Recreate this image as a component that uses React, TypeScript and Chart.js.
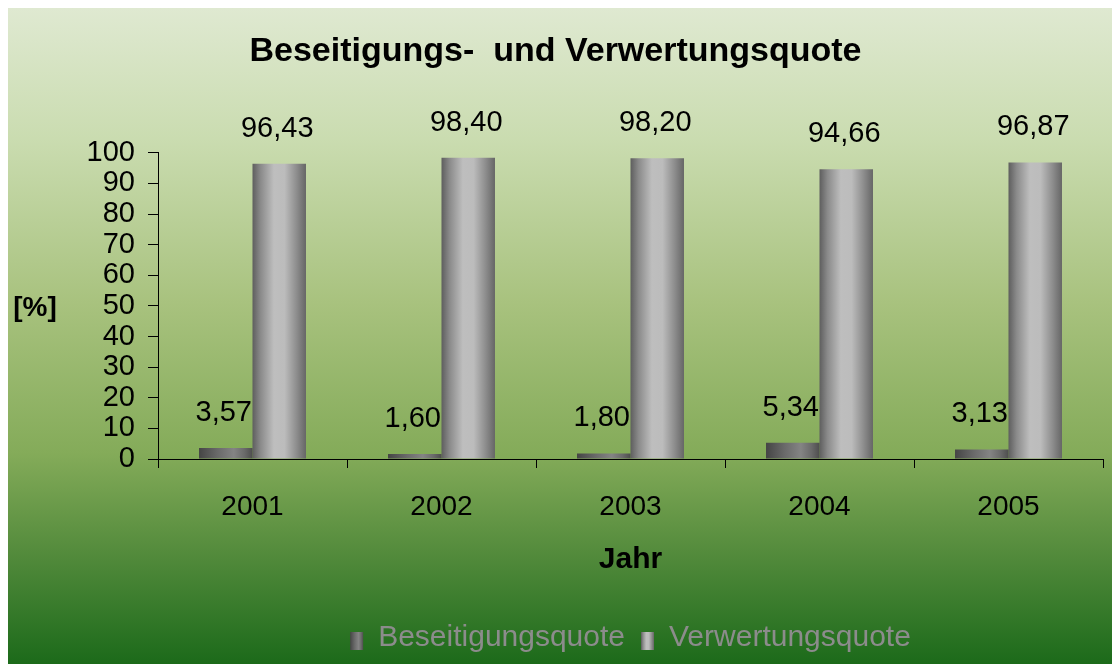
import React, { useEffect, useRef } from "react";
import { Chart, registerables } from "chart.js";

Chart.register(...registerables);

// ---- data ----
const years = ["2001", "2002", "2003", "2004", "2005"];
const beseitigungsquote = [3.57, 1.6, 1.8, 5.34, 3.13];
const verwertungsquote = [96.43, 98.4, 98.2, 94.66, 96.87];
const seriesNames = ["Beseitigungsquote", "Verwertungsquote"];
const titleText = "Beseitigungs-  und Verwertungsquote";
const xTitle = "Jahr";
const yTitle = "[%]";

// ---- styles ----
const FONT = "'Liberation Sans', Arial, Helvetica, sans-serif";
const CAT_PCT = 0.566;
const W = 1112;
const H = 656;

const stopsDark: [number, string][] = [
  [0, "#454545"],
  [0.35, "#6a6a6a"],
  [0.65, "#848484"],
  [0.85, "#6a6a6a"],
  [1, "#4e4e4e"],
];
const stopsLight: [number, string][] = [
  [0, "#5e5e5e"],
  [0.15, "#8a8a8a"],
  [0.4, "#bebebe"],
  [0.6, "#bcbcbc"],
  [0.82, "#8e8e8e"],
  [1, "#666666"],
];

function makeGrad(c: CanvasRenderingContext2D, left: number, width: number, stops: [number, string][]) {
  const g = c.createLinearGradient(left, 0, left + width, 0);
  stops.forEach(([o, col]) => g.addColorStop(o, col));
  return g;
}

function barBg(which: number) {
  return (ctx: any) => {
    const chart = ctx.chart;
    const xs = chart.scales && chart.scales.x;
    const stops = which === 0 ? stopsDark : stopsLight;
    if (!xs || ctx.type !== "data" || !xs.width) return stops[2][1];
    const center = xs.getPixelForValue(ctx.dataIndex);
    const catW = xs.width / years.length;
    const w = (catW * CAT_PCT) / 2;
    const left = which === 0 ? center - w : center;
    return makeGrad(chart.ctx, left, w, stops);
  };
}

const bgPlugin = {
  id: "bgGradient",
  beforeDraw(chart: any) {
    const c = chart.ctx;
    const g = c.createLinearGradient(0, 0, 0, chart.height);
    g.addColorStop(0, "#dfe9d1");
    g.addColorStop(0.2, "#cadcb0");
    g.addColorStop(0.45, "#a8c27e");
    g.addColorStop(0.68, "#84ab59");
    g.addColorStop(0.84, "#50893a");
    g.addColorStop(1, "#1c6a1a");
    c.save();
    c.fillStyle = g;
    c.fillRect(0, 0, chart.width, chart.height);
    c.restore();
  },
};

const labelPlugin = {
  id: "valueLabels",
  afterDatasetsDraw(chart: any) {
    const c = chart.ctx;
    c.save();
    c.font = `29px ${FONT}`;
    c.fillStyle = "#000";
    c.textAlign = "center";
    c.textBaseline = "middle";
    chart.data.datasets.forEach((ds: any, di: number) => {
      const meta = chart.getDatasetMeta(di);
      meta.data.forEach((el: any, i: number) => {
        const v = ds.data[i] as number;
        c.fillText(v.toFixed(2).replace(".", ","), el.x - 2, el.y - 35);
      });
    });
    c.restore();
  },
  afterDraw(chart: any) {
    const c = chart.ctx;
    const area = chart.chartArea;
    c.save();
    // y axis title (horizontal)
    c.font = `bold 28px ${FONT}`;
    c.fillStyle = "#000";
    c.textAlign = "center";
    c.textBaseline = "middle";
    c.fillText(yTitle, 27, (area.top + area.bottom) / 2 + 2);
    // legend boxes with gradient
    const lg = chart.legend;
    if (lg && lg.legendHitBoxes) {
      const bw = 13;
      const bh = 18;
      lg.legendHitBoxes.forEach((hb: any, i: number) => {
        const top = hb.top + (hb.height - bh) / 2 + 3;
        c.fillStyle = makeGrad(c, hb.left, bw, i === 0 ? stopsDark : stopsLight);
        c.fillRect(hb.left, top, bw, bh);
      });
    }
    c.restore();
  },
};

export default function App() {
  const ref = useRef<HTMLCanvasElement | null>(null);
  useEffect(() => {
    if (!ref.current) return;
    const chart = new Chart(ref.current, {
      type: "bar",
      data: {
        labels: years,
        datasets: [
          {
            label: seriesNames[0],
            data: beseitigungsquote,
            backgroundColor: barBg(0),
            borderWidth: 0,
            categoryPercentage: CAT_PCT,
            barPercentage: 1,
          },
          {
            label: seriesNames[1],
            data: verwertungsquote,
            backgroundColor: barBg(1),
            borderWidth: 0,
            categoryPercentage: CAT_PCT,
            barPercentage: 1,
          },
        ],
      },
      options: {
        responsive: false,
        animation: false,
        devicePixelRatio: 1,
        layout: { padding: { left: 0, right: 17, top: 0, bottom: 1 } },
        plugins: {
          title: {
            display: true,
            text: titleText,
            color: "#000",
            font: { family: FONT, size: 34, weight: "bold" },
            padding: { top: 23, bottom: 81 },
          },
          legend: {
            display: true,
            position: "bottom",
            fullSize: false,
            labels: {
              color: "#8c8c8c",
              font: { family: FONT, size: 30 },
              boxWidth: 13,
              boxHeight: 18,
              padding: 16,
              generateLabels: () =>
                seriesNames.map((n, i) => ({
                  text: n,
                  fillStyle: "rgba(0,0,0,0)",
                  strokeStyle: "rgba(0,0,0,0)",
                  lineWidth: 0,
                  hidden: false,
                  datasetIndex: i,
                  fontColor: "#8c8c8c",
                })),
            },
          },
          tooltip: { enabled: false },
        },
        scales: {
          x: {
            offset: true,
            grid: {
              offset: true,
              drawOnChartArea: false,
              drawTicks: true,
              tickLength: 9,
              color: "#000",
            },
            border: { display: true, color: "#000", width: 1 },
            ticks: {
              color: "#000",
              font: { family: FONT, size: 28 },
              padding: 22,
            },
            title: {
              display: true,
              text: xTitle,
              color: "#000",
              font: { family: FONT, size: 30, weight: "bold" },
              padding: { top: 0, bottom: 29 },
            },
            afterFit(scale: any) {
              scale.height = 148;
            },
          },
          y: {
            min: 0,
            max: 100,
            grid: {
              drawOnChartArea: false,
              drawTicks: true,
              tickLength: 10,
              color: "#000",
            },
            border: { display: true, color: "#000", width: 1 },
            ticks: {
              stepSize: 10,
              autoSkip: false,
              color: "#000",
              font: { family: FONT, size: 29 },
              padding: 13,
            },
            afterFit(scale: any) {
              scale.width = 150;
            },
          },
        },
      },
      plugins: [bgPlugin, labelPlugin],
    } as any);
    return () => chart.destroy();
  }, []);
  return (
    <div style={{ width: W, height: H }}>
      <canvas ref={ref} width={W} height={H} style={{ display: "block" }} />
    </div>
  );
}
